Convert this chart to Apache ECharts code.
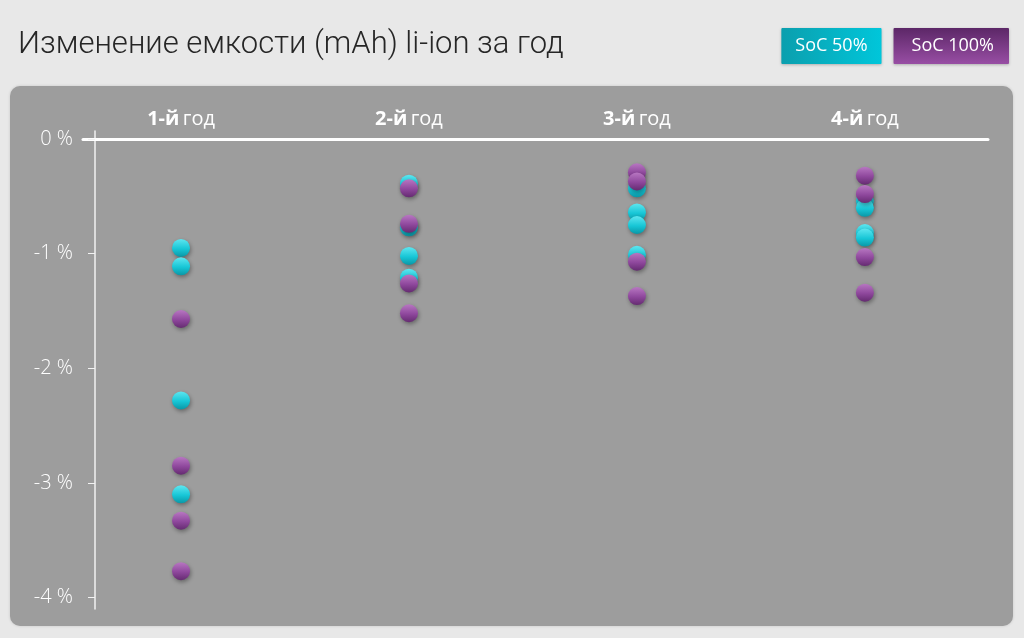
<!DOCTYPE html>
<html><head><meta charset="utf-8">
<script src="https://cdn.jsdelivr.net/npm/echarts@6/dist/echarts.min.js"></script>
<style>html,body{margin:0;padding:0;background:#e8e8e8;}#c{width:1024px;height:638px;}</style>
</head><body><div id="c"></div>
<script>
var titleText = 'Изменение емкости (mAh) li-ion за год';
var yearsBold = ['1-й', '2-й', '3-й', '4-й'];
var yearWord = 'год';
var yTicks = [-4, -3, -2, -1, 0];
var seriesNames = ['SoC 50%', 'SoC 100%'];
// values per year, in %
var soc50Year1 = [-0.95, -1.11, -2.28, -3.10];
var soc50Year2 = [-0.39, -0.77, -1.02, -1.21];
var soc50Year3 = [-0.43, -0.64, -0.75, -1.01];
var soc50Year4 = [-0.54, -0.60, -0.82, -0.86];
var soc100Year1 = [-1.57, -2.85, -3.33, -3.77];
var soc100Year2 = [-0.43, -0.74, -1.26, -1.52];
var soc100Year3 = [-0.29, -0.37, -1.07, -1.37];
var soc100Year4 = [-0.32, -0.48, -1.03, -1.34];

var soc50 = [soc50Year1, soc50Year2, soc50Year3, soc50Year4];
var soc100 = [soc100Year1, soc100Year2, soc100Year3, soc100Year4];
function toPoints(byYear) {
  var out = [];
  byYear.forEach(function (vals, i) { vals.forEach(function (v) { out.push([i, v]); }); });
  return out;
}
var lg = function (a, b, c) {
  return new echarts.graphic.LinearGradient(0, 0, 0, 1, [
    {offset: 0, color: a}, {offset: 0.55, color: b}, {offset: 1, color: c}]);
};
var FONT = '"Open Sans", "Noto Sans", sans-serif';

var chart = echarts.init(document.getElementById('c'));
chart.setOption({
  backgroundColor: '#e8e8e8',
  animation: false,
  title: {
    text: titleText, left: 13, top: 25,
    textStyle: {fontFamily: 'Roboto, "Noto Sans", sans-serif',
      fontSize: 31, fontWeight: 300, color: '#262626'}
  },
  legend: {
    right: 15, top: 28, padding: 0, itemGap: 7, icon: 'none', itemWidth: 0, itemHeight: 0,
    selectedMode: false,
    data: [
      {name: seriesNames[0], textStyle: {backgroundColor: new echarts.graphic.LinearGradient(0, 0, 1, 0, [{offset: 0, color: '#0b9fae'}, {offset: 1, color: '#00c6da'}])}},
      {name: seriesNames[1], textStyle: {padding: [8, 15, 9, 18], backgroundColor: new echarts.graphic.LinearGradient(0, 0, 0, 1, [{offset: 0, color: '#5c2767'}, {offset: 1, color: '#984ea4'}])}}
    ],
    textStyle: {color: '#fff', fontFamily: FONT, fontSize: 18, fontWeight: 500,
      padding: [8, 14, 9, 14], lineHeight: 19, borderRadius: 1,
      shadowColor: 'rgba(0,0,0,0.25)', shadowBlur: 3, shadowOffsetY: 1}
  },
  graphic: [{
    type: 'rect', z: -10, silent: true,
    shape: {x: 10, y: 86, width: 1003, height: 540, r: 10},
    style: {fill: '#9d9d9d', shadowColor: 'rgba(0,0,0,0.15)', shadowBlur: 3}
  }],
  grid: {left: 83, right: 36, top: 131, bottom: 29},
  xAxis: {
    type: 'value', min: -0.43, max: 3.54, position: 'top',
    axisLine: {show: true, onZero: true, lineStyle: {color: '#ffffff', width: 3}},
    axisTick: {show: false}, splitLine: {show: false},
    axisLabel: {
      customValues: [0, 1, 2, 3], margin: 1,
      formatter: function (v) { return '{b|' + yearsBold[v] + '} {n|' + yearWord + '}'; },
      rich: {
        b: {fontFamily: FONT, fontSize: 20, lineHeight: 22, fontWeight: 'bold', color: '#fff'},
        n: {fontFamily: FONT, fontSize: 20, lineHeight: 22, fontWeight: 'normal', color: '#fff'}
      }
    }
  },
  yAxis: {
    type: 'value', min: -4.1, max: 0.07, offset: -12,
    axisLine: {show: true, onZero: false, lineStyle: {color: '#f2f2f2', width: 1.5}},
    axisTick: {show: true, customValues: yTicks, length: 7, lineStyle: {color: '#f2f2f2', width: 1}},
    splitLine: {show: false},
    axisLabel: {customValues: yTicks, margin: 22, color: '#fff', fontFamily: FONT, fontSize: 20, fontWeight: 300,
      formatter: function (v) { return Math.round(v) + ' %'; }}
  },
  series: [
    {name: seriesNames[0], type: 'scatter', symbolSize: 18, data: toPoints(soc50), z: 2,
      itemStyle: {color: lg('#5ee6f0', '#17c6d6', '#0a97a6'), opacity: 1,
        shadowColor: 'rgba(0,0,0,0.35)', shadowBlur: 4, shadowOffsetY: 2, shadowOffsetX: 1}},
    {name: seriesNames[1], type: 'scatter', symbolSize: 18, data: toPoints(soc100), z: 3,
      itemStyle: {color: lg('#b877c2', '#8e479c', '#652b71'), opacity: 1,
        shadowColor: 'rgba(0,0,0,0.35)', shadowBlur: 4, shadowOffsetY: 2, shadowOffsetX: 1}}
  ]
});
</script></body></html>
